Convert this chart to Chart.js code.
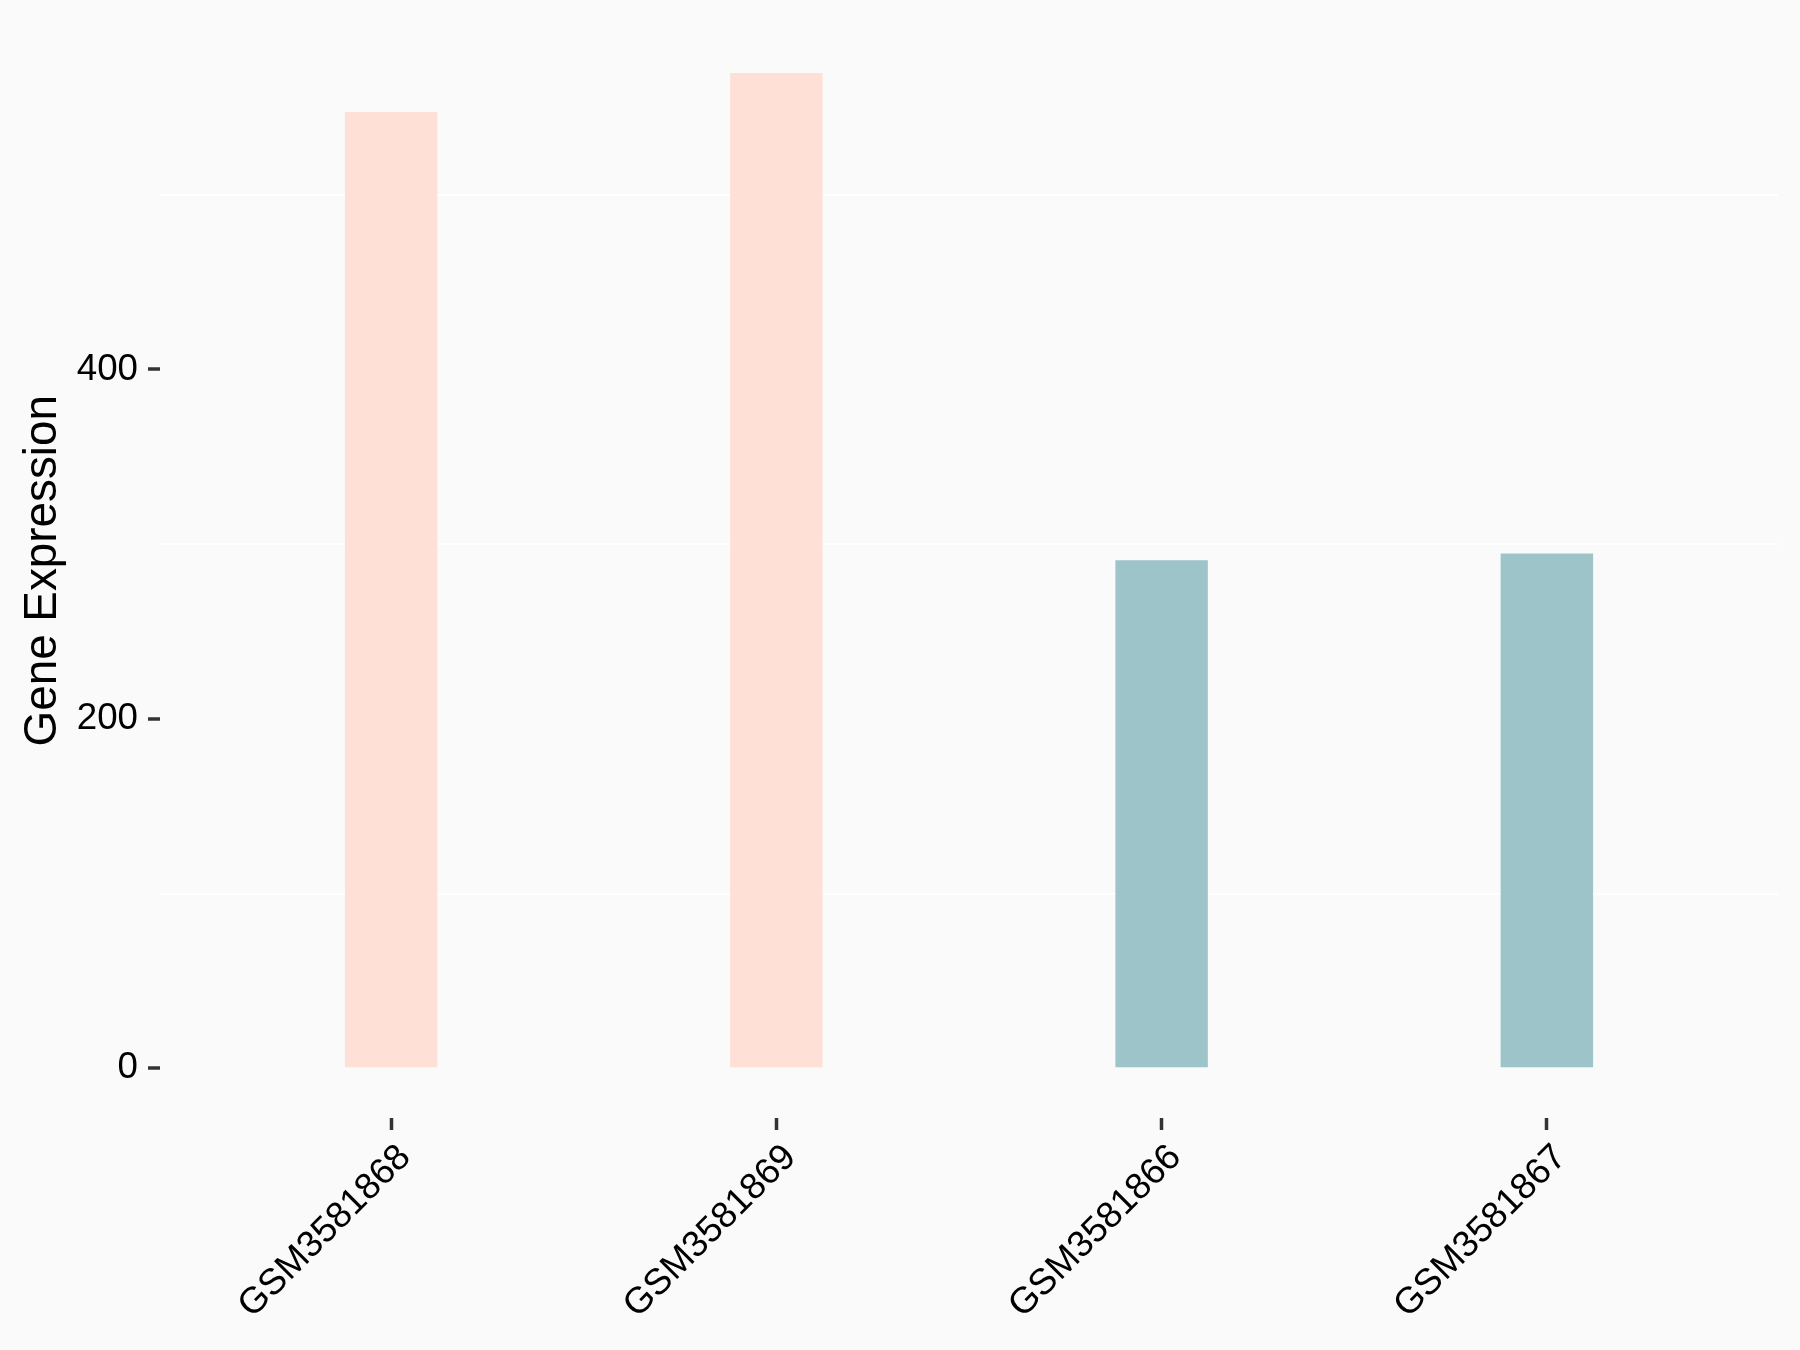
<!DOCTYPE html>
<html>
<head>
<meta charset="utf-8">
<title>Gene Expression</title>
<script src="https://cdn.jsdelivr.net/npm/chart.js@4/dist/chart.umd.min.js"></script>
<style>
  html, body { margin: 0; padding: 0; background: #FAFAFA; }
  #expression-chart { display: block; }
</style>
</head>
<body>
<canvas id="expression-chart" width="1800" height="1350"></canvas>
<script>
// Samples in plotting order, with their expression values
const samples = ['GSM3581868', 'GSM3581869', 'GSM3581866', 'GSM3581867'];
const expression = [547.3, 569.6, 290.8, 294.6];
const groupColors = ['#FEE0D6', '#FEE0D6', '#9DC4C8', '#9DC4C8'];

// Y axis ticks: labelled ones and the light grid lines between them
const yTickLabels = [0, 200, 400];
const yGridLines = [100, 300, 500];

// Build {x, y} points so the x axis can use ggplot-like padding
function buildPoints() {
  return expression.map((value, i) => ({ x: i, y: value }));
}

function createExpressionChart() {
  const canvas = document.getElementById('expression-chart');
  if (!canvas) return;

  const ctx = canvas.getContext('2d');
  new Chart(ctx, {
    type: 'bar',
    data: {
      datasets: [{
        label: 'Gene Expression',
        data: buildPoints(),
        backgroundColor: groupColors,
        borderWidth: 0,
        barPercentage: 0.24,
        categoryPercentage: 1
      }]
    },
    options: {
      responsive: false,
      animation: false,
      layout: {
        padding: { top: 23.5, right: 22, left: 0, bottom: 0 }
      },
      plugins: {
        legend: { display: false },
        tooltip: { enabled: false }
      },
      scales: {
        x: {
          type: 'linear',
          min: -0.6,
          max: samples.length - 0.4,
          offset: false,
          afterBuildTicks: function(scale) {
            scale.ticks = samples.map((s, i) => ({ value: i }));
          },
          afterFit: function(scale) {
            scale.height = 232;
            scale.paddingLeft = 0;
            scale.paddingRight = 0;
          },
          border: { display: false },
          grid: {
            offset: false,
            drawOnChartArea: false,
            drawTicks: true,
            tickLength: 12,
            tickWidth: 3.5,
            tickColor: '#333333'
          },
          ticks: {
            autoSkip: false,
            minRotation: 45,
            maxRotation: 45,
            padding: 6,
            labelOffset: 14,
            color: '#000000',
            font: { family: 'Liberation Sans', size: 36.7 },
            callback: function(value) {
              return samples[value];
            }
          }
        },
        y: {
          min: -28.5,
          max: 598,
          afterBuildTicks: function(scale) {
            const values = yTickLabels.concat(yGridLines).sort((a, b) => a - b);
            scale.ticks = values.map(v => ({ value: v }));
          },
          afterFit: function(scale) {
            scale.width = 160;
            scale.paddingTop = 0;
            scale.paddingBottom = 0;
          },
          border: { display: false },
          grid: {
            lineWidth: 2,
            color: function(context) {
              return yGridLines.includes(context.tick.value) ? '#FFFFFF' : 'rgba(0,0,0,0)';
            },
            tickLength: 12,
            tickWidth: 3.5,
            tickColor: function(context) {
              return yTickLabels.includes(context.tick.value) ? '#333333' : 'rgba(0,0,0,0)';
            }
          },
          ticks: {
            autoSkip: false,
            padding: 10,
            color: '#000000',
            font: { family: 'Liberation Sans', size: 36.7 },
            callback: function(value) {
              return yTickLabels.includes(value) ? String(value) : '';
            }
          },
          title: {
            display: true,
            text: 'Gene Expression',
            color: '#000000',
            padding: { top: 16, bottom: 0 },
            font: { family: 'Liberation Sans', size: 45.8 }
          }
        }
      }
    }
  });
}

createExpressionChart();
</script>
</body>
</html>
